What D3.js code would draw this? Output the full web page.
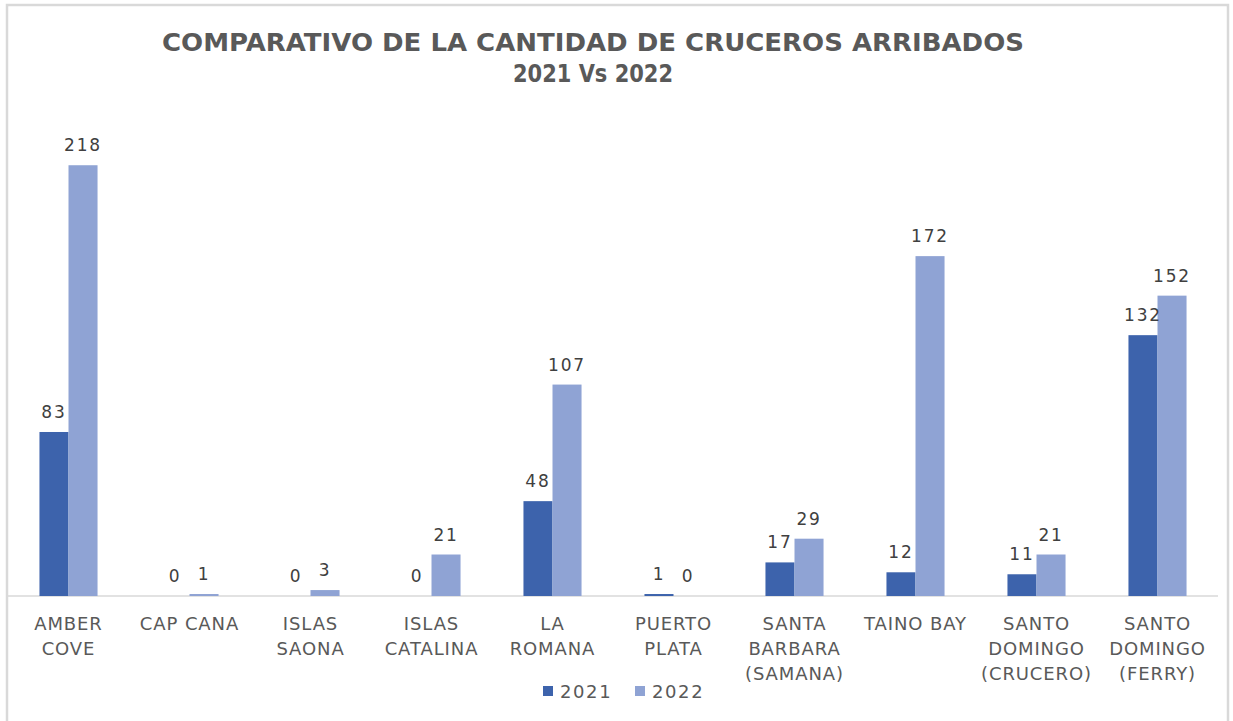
<!DOCTYPE html>
<html>
<head>
<meta charset="utf-8">
<script src="https://cdn.jsdelivr.net/npm/d3@7"></script>
<style>
  body { margin: 0; background: #fff; }
  svg text { font-family: "DejaVu Sans", sans-serif; }
</style>
</head>
<body>
<div id="chart"></div>
<script>
const categories = [
  ['AMBER', 'COVE'], ['CAP CANA'], ['ISLAS', 'SAONA'], ['ISLAS', 'CATALINA'], ['LA', 'ROMANA'],
  ['PUERTO', 'PLATA'], ['SANTA', 'BARBARA', '(SAMANA)'], ['TAINO BAY'],
  ['SANTO', 'DOMINGO', '(CRUCERO)'], ['SANTO', 'DOMINGO', '(FERRY)']
]
const series = ['2021', '2022']
const values2021 = [83, 0, 0, 0, 48, 1, 17, 12, 11, 132]
const values2022 = [218, 1, 3, 21, 107, 0, 29, 172, 21, 152]
const colors = ['#3d63ac', '#8fa3d4']
const titleLines = ['COMPARATIVO DE LA CANTIDAD DE CRUCEROS ARRIBADOS', '2021 Vs 2022']

const width = 1233, height = 721
const svg = d3.select('#chart').append('svg')
  .attr('width', width)
  .attr('height', height)

// outer frame
svg.append('rect')
  .attr('x', 7).attr('y', 5)
  .attr('width', 1221).attr('height', 730)
  .attr('fill', 'none')
  .attr('stroke', '#d9d9d9')
  .attr('stroke-width', 2.5)

const keys = categories.map((d, i) => i)
const x = d3.scaleBand().domain(keys).range([8, 1218]).paddingInner(0.52).paddingOuter(0.26)
const xs = d3.scaleBand().domain(series).range([0, x.bandwidth()])
const y = d3.scaleLinear().domain([0, 250]).range([596, 102])

// title (condensed look)
svg.append('g').selectAll('text').data(titleLines).enter().append('text')
  .attr('x', 593)
  .attr('y', (d, i) => 51 + i * 31)
  .attr('text-anchor', 'middle')
  .attr('fill', '#595959')
  .attr('font-family', '"Open Sans", sans-serif')
  .attr('font-weight', 600)
  .attr('font-size', 25)
  .attr('textLength', (d, i) => i === 0 ? 862 : 160)
  .attr('lengthAdjust', 'spacingAndGlyphs')
  .text(d => d)

// baseline
svg.append('line')
  .attr('x1', 8).attr('x2', 1218)
  .attr('y1', y(0)).attr('y2', y(0))
  .attr('stroke', '#d9d9d9')
  .attr('stroke-width', 1.5)

const data = keys.map(i => ({ i, vals: [values2021[i], values2022[i]] }))

const groups = svg.append('g').selectAll('g').data(data).enter().append('g')
  .attr('transform', d => `translate(${x(d.i)},0)`)

groups.selectAll('rect').data(d => d.vals.map((v, j) => ({ v, s: series[j], j }))).enter().append('rect')
  .attr('x', d => xs(d.s))
  .attr('width', xs.bandwidth())
  .attr('y', d => y(d.v))
  .attr('height', d => y(0) - y(d.v))
  .attr('fill', d => colors[d.j])

groups.selectAll('text.val').data(d => d.vals.map((v, j) => ({ v, s: series[j] }))).enter().append('text')
  .attr('class', 'val')
  .attr('x', d => xs(d.s) + xs.bandwidth() / 2)
  .attr('y', d => y(d.v) - 14)
  .attr('text-anchor', 'middle')
  .attr('font-size', 17)
  .attr('letter-spacing', 1.8)
  .attr('fill', '#404040')
  .text(d => d.v)

// category labels
const xAxis = svg.append('g')
xAxis.selectAll('text').data(data).enter().append('text')
  .attr('x', d => x(d.i) + x.bandwidth() / 2)
  .attr('y', 630)
  .attr('text-anchor', 'middle')
  .attr('font-size', 18)
  .attr('letter-spacing', 0.9)
  .attr('fill', '#595959')
  .each(function (d) {
    const t = d3.select(this)
    categories[d.i].forEach((line, k) => {
      t.append('tspan')
        .attr('x', x(d.i) + x.bandwidth() / 2)
        .attr('dy', k === 0 ? 0 : 25)
        .text(line)
    })
  })

// legend
const legend = svg.append('g').attr('transform', 'translate(543,691)')
const items = legend.selectAll('g').data(series).enter().append('g')
  .attr('transform', (d, i) => `translate(${i * 92},0)`)
items.append('rect')
  .attr('x', 0).attr('y', -5)
  .attr('width', 10).attr('height', 10)
  .attr('fill', (d, i) => colors[i])
items.append('text')
  .attr('x', 17).attr('y', 7)
  .attr('font-size', 18)
  .attr('letter-spacing', 1.6)
  .attr('fill', '#595959')
  .text(d => d)
</script>
</body>
</html>
